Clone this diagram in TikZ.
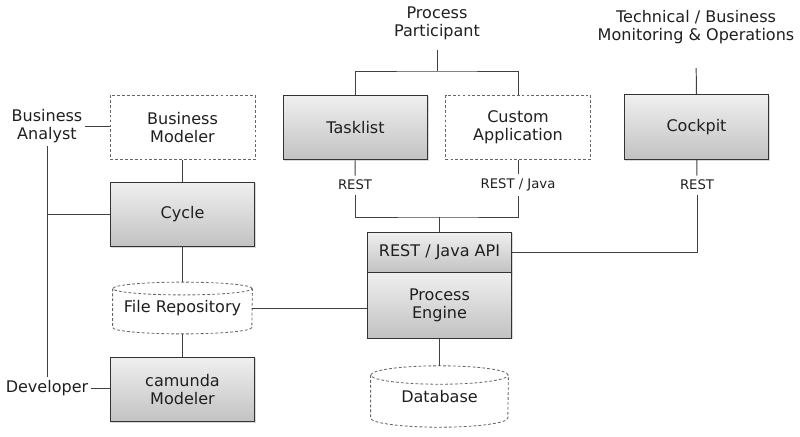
\documentclass[tikz,border=0pt]{standalone}
\usepackage{fontspec}
\setmainfont{DejaVu Sans}
\usetikzlibrary{shadows}
\begin{document}
\begin{tikzpicture}[x=0.025cm, y=-0.025cm,
  every node/.style={font=\fontsize{11.4}{13}\selectfont, text=black!88, align=center},
  comp/.style={draw=black!80, line width=0.7pt, top color=black!6, bottom color=black!24,
    minimum width=3.62cm, minimum height=1.62cm, inner sep=0pt,
    drop shadow={shadow xshift=0.8pt, shadow yshift=-0.8pt, opacity=0.3}},
  ext/.style={draw=black!60, dash pattern=on 2pt off 1.5pt, line width=0.6pt,
    minimum width=3.62cm, minimum height=1.62cm, inner sep=0pt},
  store/.style={inner sep=0pt},
  drum/.style={draw=black!60, dash pattern=on 2pt off 1.5pt, line width=0.6pt},
  proto/.style={font=\fontsize{9.4}{11}\selectfont, inner sep=3pt},
  actor/.style={inner sep=2pt},
  link/.style={draw=black!75, line width=0.7pt}]
\useasboundingbox (0,0) rectangle (800,436);
% nodes
\node[actor] (ba) at (47,126) {Business\\Analyst};
\node[actor] (dev) at (47,388) {Developer};
\node[ext] (bm) at (182.5,127.5) {Business\\Modeler};
\node[comp] (cycle) at (182.5,214.5) {Cycle};
\node[store, minimum width=3.48cm, minimum height=1.28cm] (repo) at (182.5,308) {File Repository};
\node[comp] (cm) at (182.5,389.5) {camunda\\Modeler};
\node[actor] (pp) at (437,23) {Process\\Participant};
\node[comp] (task) at (355.5,127.5) {Tasklist};
\node[ext] (custom) at (518,127.5) {Custom\\Application};
\node[actor] (mon) at (696,27) {Technical / Business\\Monitoring \& Operations};
\node[comp] (cockpit) at (696.5,127) {Cockpit};
\node[proto] (rest1) at (355,185) {REST};
\node[proto] (rest2) at (518,185) {REST / Java};
\node[proto] (rest3) at (697,185) {REST};
\node[comp, minimum height=1.02cm] (api) at (439.5,252.5) {REST / Java API};
\node[comp, minimum height=1.65cm] (engine) at (439.5,305) {Process\\Engine};
\node[store, minimum width=3.43cm, minimum height=1.52cm] (db) at (439.5,396.5) {Database};
\coordinate (pj) at (437,71);
\coordinate (aj) at (439.5,217);
% cylinders
\draw[drum] ([yshift=-0.16cm]repo.north) ellipse [x radius=1.74cm, y radius=0.16cm];
\draw[drum] ([yshift=-0.16cm]repo.north west) -- ([yshift=0.16cm]repo.south west)
  arc[start angle=180, end angle=360, x radius=1.74cm, y radius=0.16cm] -- ([yshift=-0.16cm]repo.north east);
\draw[drum] ([yshift=-0.23cm]db.north) ellipse [x radius=1.715cm, y radius=0.23cm];
\draw[drum] ([yshift=-0.23cm]db.north west) -- ([yshift=0.23cm]db.south west)
  arc[start angle=180, end angle=360, x radius=1.715cm, y radius=0.23cm] -- ([yshift=-0.23cm]db.north east);
% lines
\draw[link] (ba.east) -- (ba.east -| bm.west);
\draw[link] (ba) -- (dev);
\draw[link] (cycle.west) -- (cycle.west -| ba);
\draw[link] (dev.east) -- (dev.east -| cm.west);
\draw[link] (bm) -- (cycle);
\draw[link] (cycle) -- (repo);
\draw[link] (repo) -- (cm);
\draw[link] (repo.east) -- (repo.east -| engine.west);
\draw[link, shorten <=5pt] (pp) -- (pj);
\draw[link] (task) |- (pj) -| (custom);
\draw[link, shorten <=15pt] (mon) -- (cockpit);
\draw[link] (task) -- (rest1);
\draw[link] (custom) -- (rest2);
\draw[link] (cockpit) -- (rest3);
\draw[link] (rest1) |- (aj) -| (rest2);
\draw[link] (aj) -- (api);
\draw[link] (rest3) |- (api);
\draw[link] (engine) -- (db);
\end{tikzpicture}
\end{document}
